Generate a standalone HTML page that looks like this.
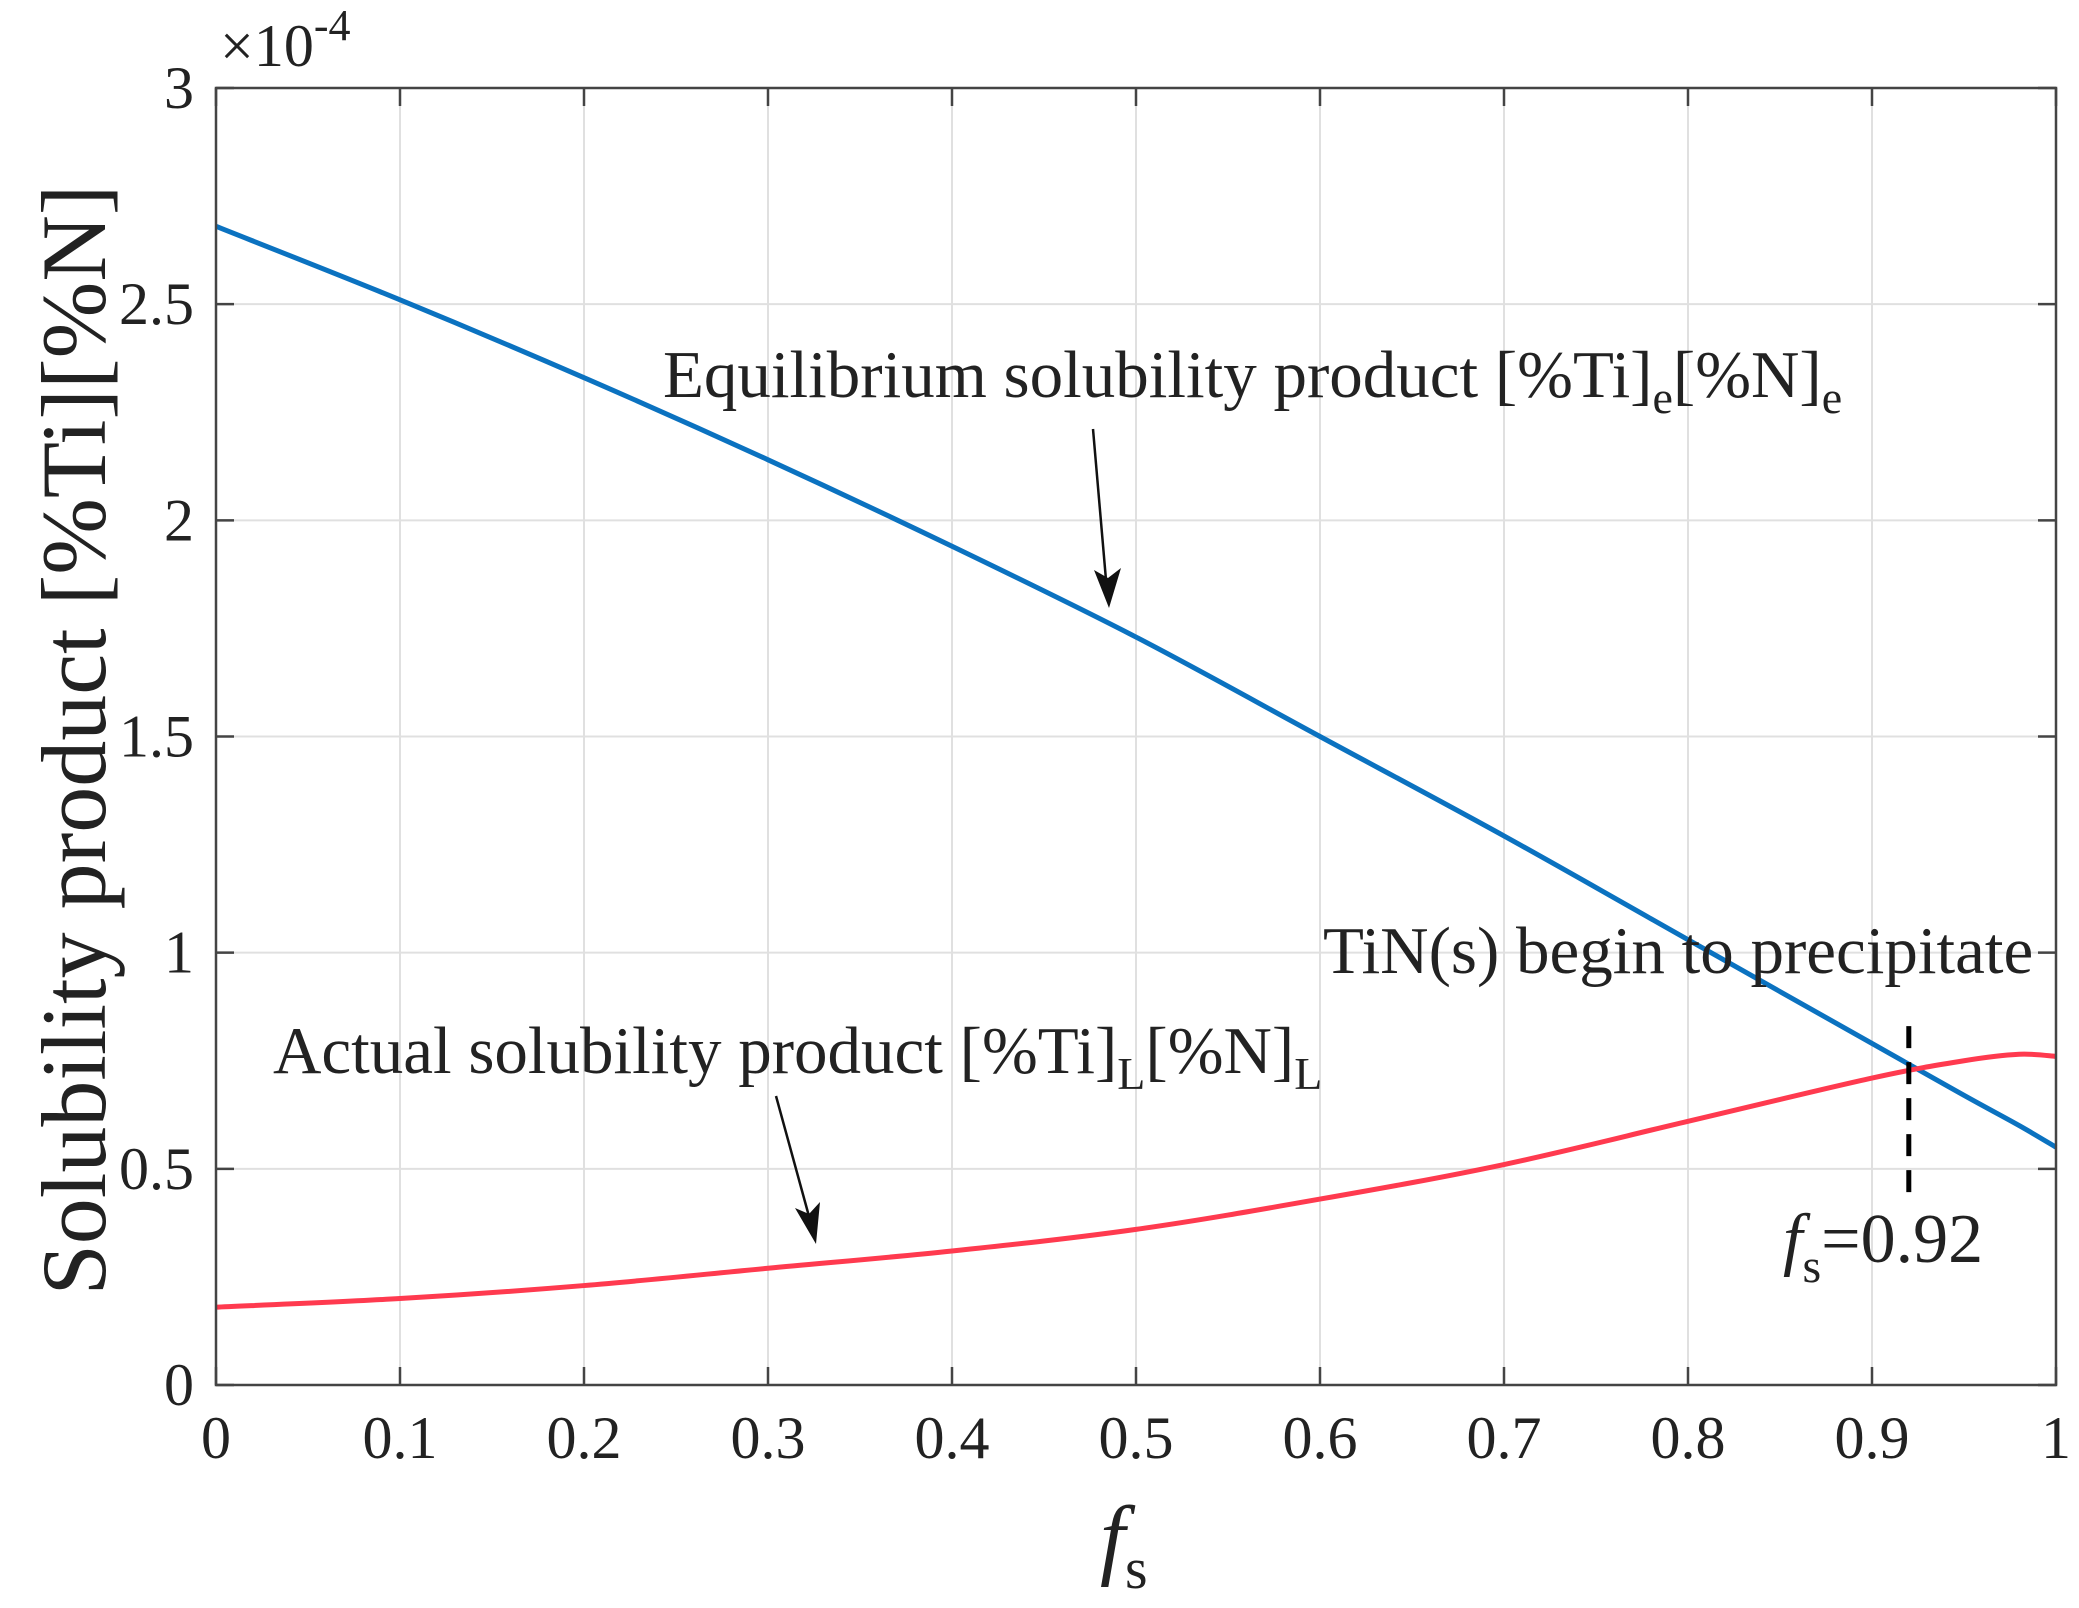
<!DOCTYPE html>
<html><head><meta charset="utf-8"><style>
body{margin:0;background:#fff}
svg text{font-family:"Liberation Serif",serif;fill:#222}
</style></head><body>
<svg id="chart" width="2079" height="1603" viewBox="0 0 2079 1603" xmlns="http://www.w3.org/2000/svg">
<g id="grid"></g>
<g id="series"></g>
<g id="axes"></g>
<text x="220" y="66" font-size="60">×10<tspan dy="-26" font-size="44">-4</tspan></text>
<text transform="translate(105,740) rotate(-90)" text-anchor="middle" font-size="92">Solubility product [%Ti][%N]</text>
<text x="1100" y="1568" font-size="90" font-style="italic">f<tspan font-style="normal" font-size="58" dy="20">s</tspan></text>
<text x="663" y="397" font-size="67">Equilibrium solubility product [%Ti]<tspan font-size="46" dy="16">e</tspan><tspan dy="-16">[%N]</tspan><tspan font-size="46" dy="16">e</tspan></text>
<text x="273" y="1073" font-size="67">Actual solubility product [%Ti]<tspan font-size="46" dy="16">L</tspan><tspan dy="-16">[%N]</tspan><tspan font-size="46" dy="16">L</tspan></text>
<text x="1323" y="973" font-size="67">TiN(s) begin to precipitate</text>
<text x="1783" y="1262" font-size="70" font-style="italic">f<tspan font-style="normal" font-size="48" dy="20">s</tspan><tspan font-style="normal" font-size="70" dy="-20">=0.92</tspan></text>
<g><line x1="1093" y1="429" x2="1106" y2="580" stroke="#111" stroke-width="2.5"/><polygon points="1109,608 1094,570 1108,578 1121,568" fill="#111"/></g>
<g><line x1="776" y1="1096" x2="810" y2="1220" stroke="#111" stroke-width="2.5"/><polygon points="816,1244 795,1208 809,1214 820,1202" fill="#111"/></g>
</svg>
<script>
const xTicks=[0,0.1,0.2,0.3,0.4,0.5,0.6,0.7,0.8,0.9,1];
const xTickLabels=["0","0.1","0.2","0.3","0.4","0.5","0.6","0.7","0.8","0.9","1"];
const yTicks=[0,0.5,1,1.5,2,2.5,3];
const yTickLabels=["0","0.5","1","1.5","2","2.5","3"];
const fsValues=[0,0.1,0.2,0.3,0.4,0.5,0.6,0.7,0.8,0.9,0.95,0.98,1];
const equilibrium=[2.68,2.51,2.33,2.14,1.94,1.73,1.50,1.27,1.03,0.79,0.67,0.60,0.55];
const actual=[0.18,0.20,0.23,0.27,0.31,0.36,0.43,0.51,0.61,0.71,0.75,0.765,0.76];
const precipFs=0.92;
const precipTop=0.83, precipBottom=0.44;
const L=216,R=2056,T=88,B=1385;
const X=v=>L+(R-L)*v, Y=v=>B-(B-T)*v/3;
const NS="http://www.w3.org/2000/svg";
function mk(tag,attrs,parent){const e=document.createElementNS(NS,tag);for(const k in attrs)e.setAttribute(k,attrs[k]);parent.appendChild(e);return e;}
const grid=document.getElementById('grid'),axes=document.getElementById('axes'),series=document.getElementById('series');
xTicks.forEach((t,i)=>{
 const g=mk('line',{x1:X(t),x2:X(t),y1:T,y2:B,stroke:'#e0e0e0','stroke-width':2},grid);
 
 
 mk('line',{x1:X(t),x2:X(t),y1:B,y2:B-18,stroke:'#444','stroke-width':2.5},axes);
 mk('line',{x1:X(t),x2:X(t),y1:T,y2:T+18,stroke:'#444','stroke-width':2.5},axes);
 const tx=mk('text',{x:X(t),y:1458,'text-anchor':'middle','font-size':60},axes);
 tx.textContent=xTickLabels[i];
 
 
});
yTicks.forEach((t,i)=>{
 const g=mk('line',{x1:L,x2:R,y1:Y(t),y2:Y(t),stroke:'#e0e0e0','stroke-width':2},grid);
 
 
 mk('line',{x1:L,x2:L+18,y1:Y(t),y2:Y(t),stroke:'#444','stroke-width':2.5},axes);
 mk('line',{x1:R,x2:R-18,y1:Y(t),y2:Y(t),stroke:'#444','stroke-width':2.5},axes);
 const tx=mk('text',{x:194,y:Y(t)+20,'text-anchor':'end','font-size':60},axes);
 tx.textContent=yTickLabels[i];
 
 
});
const box=mk('rect',{x:L,y:T,width:R-L,height:B-T,fill:'none',stroke:'#444','stroke-width':2.5},axes);


function path(vals){let d='';const p=fsValues.map((f,i)=>[X(f),Y(vals[i])]);
 d='M'+p[0][0]+','+p[0][1];
 for(let i=0;i<p.length-1;i++){const p0=p[i-1]||p[i],p1=p[i],p2=p[i+1],p3=p[i+2]||p2;
  d+=` C${p1[0]+(p2[0]-p0[0])/6},${p1[1]+(p2[1]-p0[1])/6} ${p2[0]-(p3[0]-p1[0])/6},${p2[1]-(p3[1]-p1[1])/6} ${p2[0]},${p2[1]}`;}
 return d;}
const eq=mk('path',{d:path(equilibrium),fill:'none',stroke:'#0b72c0','stroke-width':5},series);


const ac=mk('path',{d:path(actual),fill:'none',stroke:'#ff3a4f','stroke-width':5},series);


const dl=mk('line',{x1:X(precipFs),x2:X(precipFs),y1:Y(precipTop),y2:Y(precipBottom),stroke:'#000','stroke-width':5,'stroke-dasharray':'22,14'},series);


</script>
</body></html>
